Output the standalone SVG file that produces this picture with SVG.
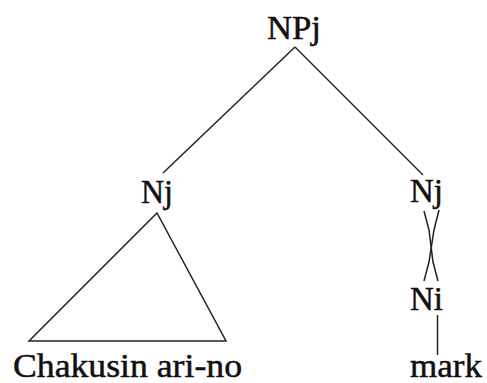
<svg xmlns="http://www.w3.org/2000/svg" width="487" height="383" viewBox="0 0 487 383">
  <style>
    .lbl { font-family: "Liberation Serif", "Times New Roman", serif; font-size: 33px; fill: #111; stroke: #111; stroke-width: 0.5; }
    .edge { stroke: #222; stroke-width: 1.5; fill: none; }
  </style>
  <rect width="487" height="383" fill="#fff"/>
  <g id="connectors">
    <line class="edge" x1="295" y1="47" x2="163" y2="173"/>
    <line class="edge" x1="295" y1="47" x2="423" y2="175"/>
    <polygon class="edge" points="157,213 29,341 226,341"/>
    <polyline class="edge" points="424,211 429,230 433,262 438,281"/>
    <polyline class="edge" points="439,210 434,230 429,262 424,281"/>
    <line class="edge" x1="437.5" y1="315" x2="437.5" y2="355"/>
  </g>
  <g id="NPj"><text class="lbl" x="267" y="39" textLength="54" lengthAdjust="spacingAndGlyphs">NPj</text></g>
  <g id="Nj-left"><text class="lbl" x="141" y="203" textLength="32" lengthAdjust="spacingAndGlyphs">Nj</text></g>
  <g id="Nj-right"><text class="lbl" x="410" y="202" textLength="33" lengthAdjust="spacingAndGlyphs">Nj</text></g>
  <g id="Ni"><text class="lbl" x="410" y="310" textLength="33" lengthAdjust="spacingAndGlyphs">Ni</text></g>
  <g id="chakusin"><text class="lbl" x="13" y="377" textLength="229" lengthAdjust="spacingAndGlyphs">Chakusin ari-no</text></g>
  <g id="mark"><text class="lbl" x="410" y="377" textLength="72" lengthAdjust="spacingAndGlyphs">mark</text></g>
</svg>
